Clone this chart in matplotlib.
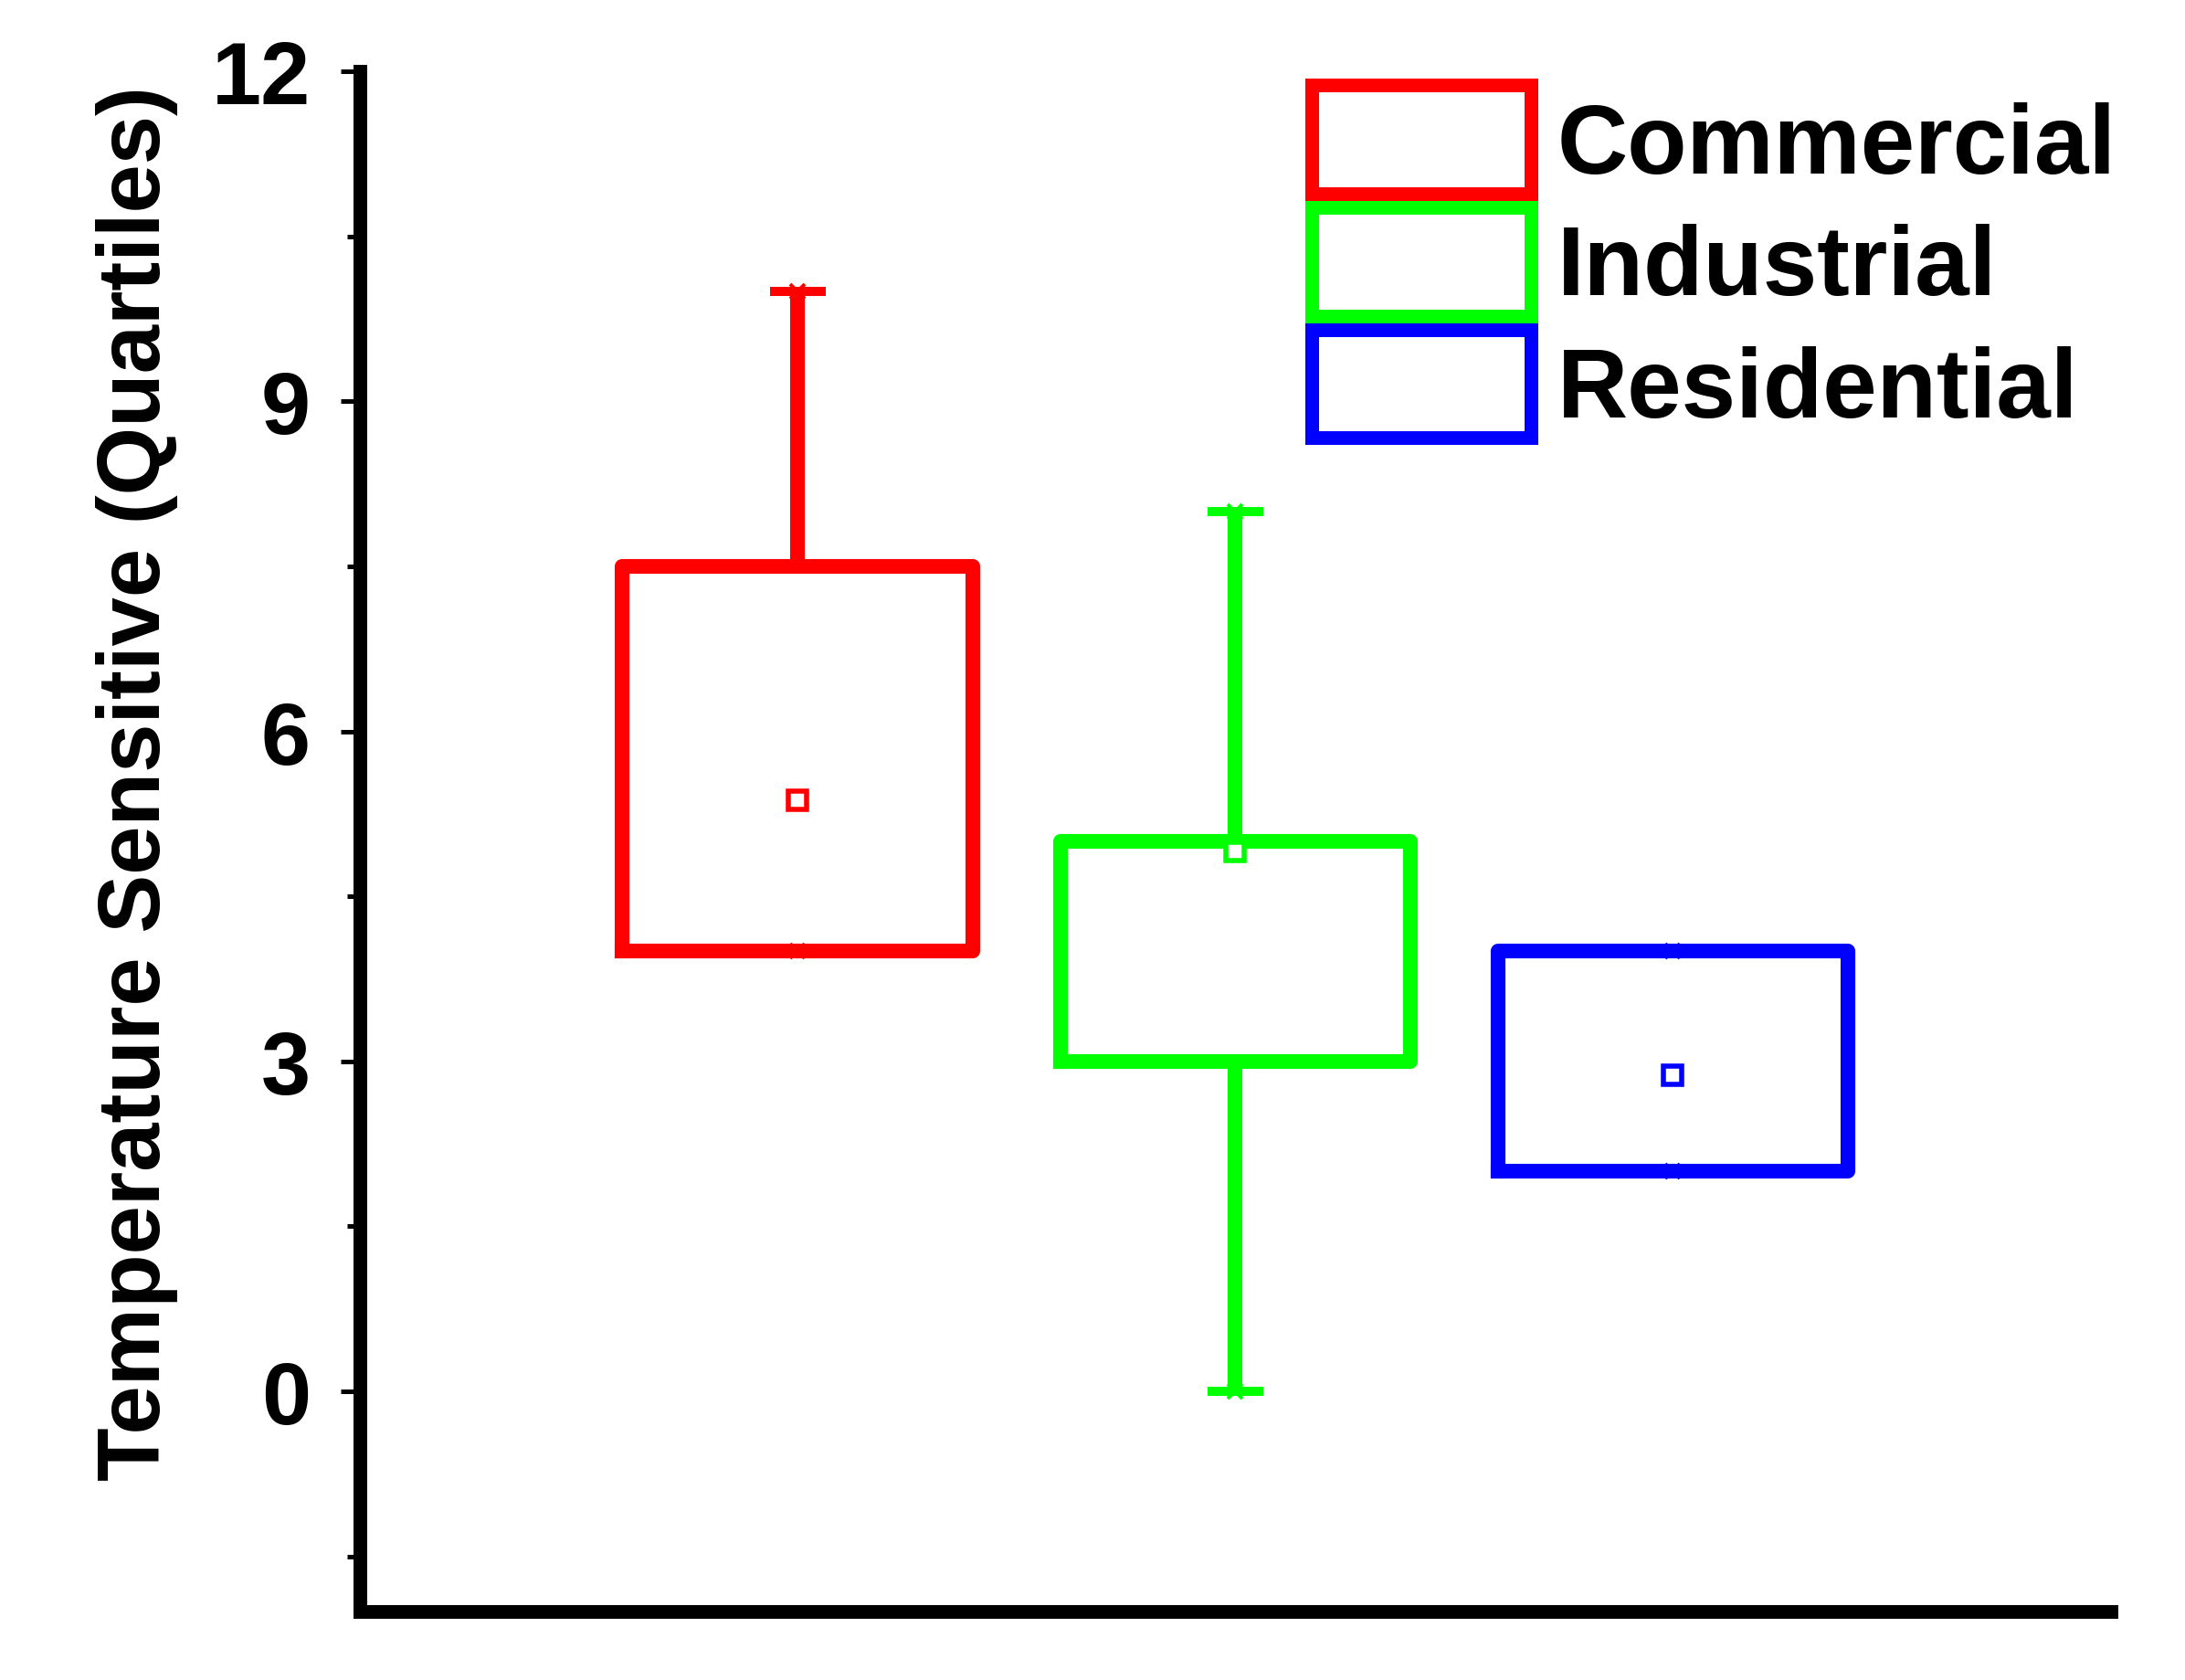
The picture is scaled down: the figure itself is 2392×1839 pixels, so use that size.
import matplotlib
matplotlib.use('Agg')
import matplotlib.pyplot as plt
from matplotlib.patches import Patch
from matplotlib.ticker import MultipleLocator

plt.rcParams['font.family'] = ['Liberation Sans', 'DejaVu Sans']
plt.rcParams['font.weight'] = 'bold'

# box statistics
categories = ['Commercial', 'Industrial', 'Residential']
colors = ['#FF0000', '#00FF00', '#0000FF']
q1 = [4.0, 3.0, 2.0]
q3 = [7.5, 5.0, 4.0]
whislo = [4.0, 0.0, 2.0]
whishi = [10.0, 8.0, 4.0]
means = [5.37, 4.91, 2.87]
positions = [1, 2, 3]

fig = plt.figure(figsize=(11.96, 9.2), dpi=200)
ax = fig.add_axes([0.1647, 0.0408, 0.8013, 0.9163])

for i in range(len(categories)):
    stats = [{'label': categories[i], 'q1': q1[i], 'q3': q3[i], 'med': q1[i],
              'whislo': whislo[i], 'whishi': whishi[i], 'mean': means[i], 'fliers': []}]
    c = colors[i]
    ax.bxp(stats, positions=[positions[i]], widths=0.8, capwidths=0.127,
           showmeans=True, showfliers=False, manage_ticks=False,
           boxprops=dict(color=c, linewidth=5.8),
           whiskerprops=dict(color=c, linewidth=5.8, solid_capstyle='butt'),
           capprops=dict(color=c, linewidth=3.6, solid_capstyle='butt'),
           medianprops=dict(linewidth=0),
           meanprops=dict(marker='s', markersize=7, markerfacecolor='white',
                          markeredgecolor=c, markeredgewidth=2))
    # min / max markers (mostly hidden under caps and box edges)
    ax.plot([positions[i], positions[i]], [whislo[i], whishi[i]], linestyle='none',
            marker='x', markersize=6, markeredgewidth=1.4, color=c, zorder=1)

ax.set_xlim(0, 4)
ax.set_ylim(-2, 12)
ax.yaxis.set_major_locator(MultipleLocator(3))
ax.yaxis.set_minor_locator(MultipleLocator(1.5))
ax.set_xticks([])

for side in ['top', 'right']:
    ax.spines[side].set_visible(False)
for side in ['left', 'bottom']:
    ax.spines[side].set_linewidth(5.4)

ax.tick_params(axis='y', which='major', length=7.5, width=1.8, pad=12, labelsize=35)
ax.tick_params(axis='y', which='minor', length=5, width=1.8)
for lbl in ax.get_yticklabels():
    lbl.set_fontweight('bold')

ax.set_ylabel('Temperature Sensitive (Quartiles)', fontsize=34.5, fontweight='bold')
ax.yaxis.set_label_coords(-0.104, 0.538)

handles = [Patch(facecolor='white', edgecolor=c, linewidth=5.4) for c in colors]
leg = ax.legend(handles, categories, loc='upper left', bbox_to_anchor=(0.5438, 0.9908),
                frameon=False, fontsize=38.5, handlelength=2.24, handleheight=1.33,
                labelspacing=0.14, handletextpad=0.27, borderpad=0, borderaxespad=0)
for t in leg.get_texts():
    t.set_fontweight('bold')

fig.savefig('out.png', dpi=200)
